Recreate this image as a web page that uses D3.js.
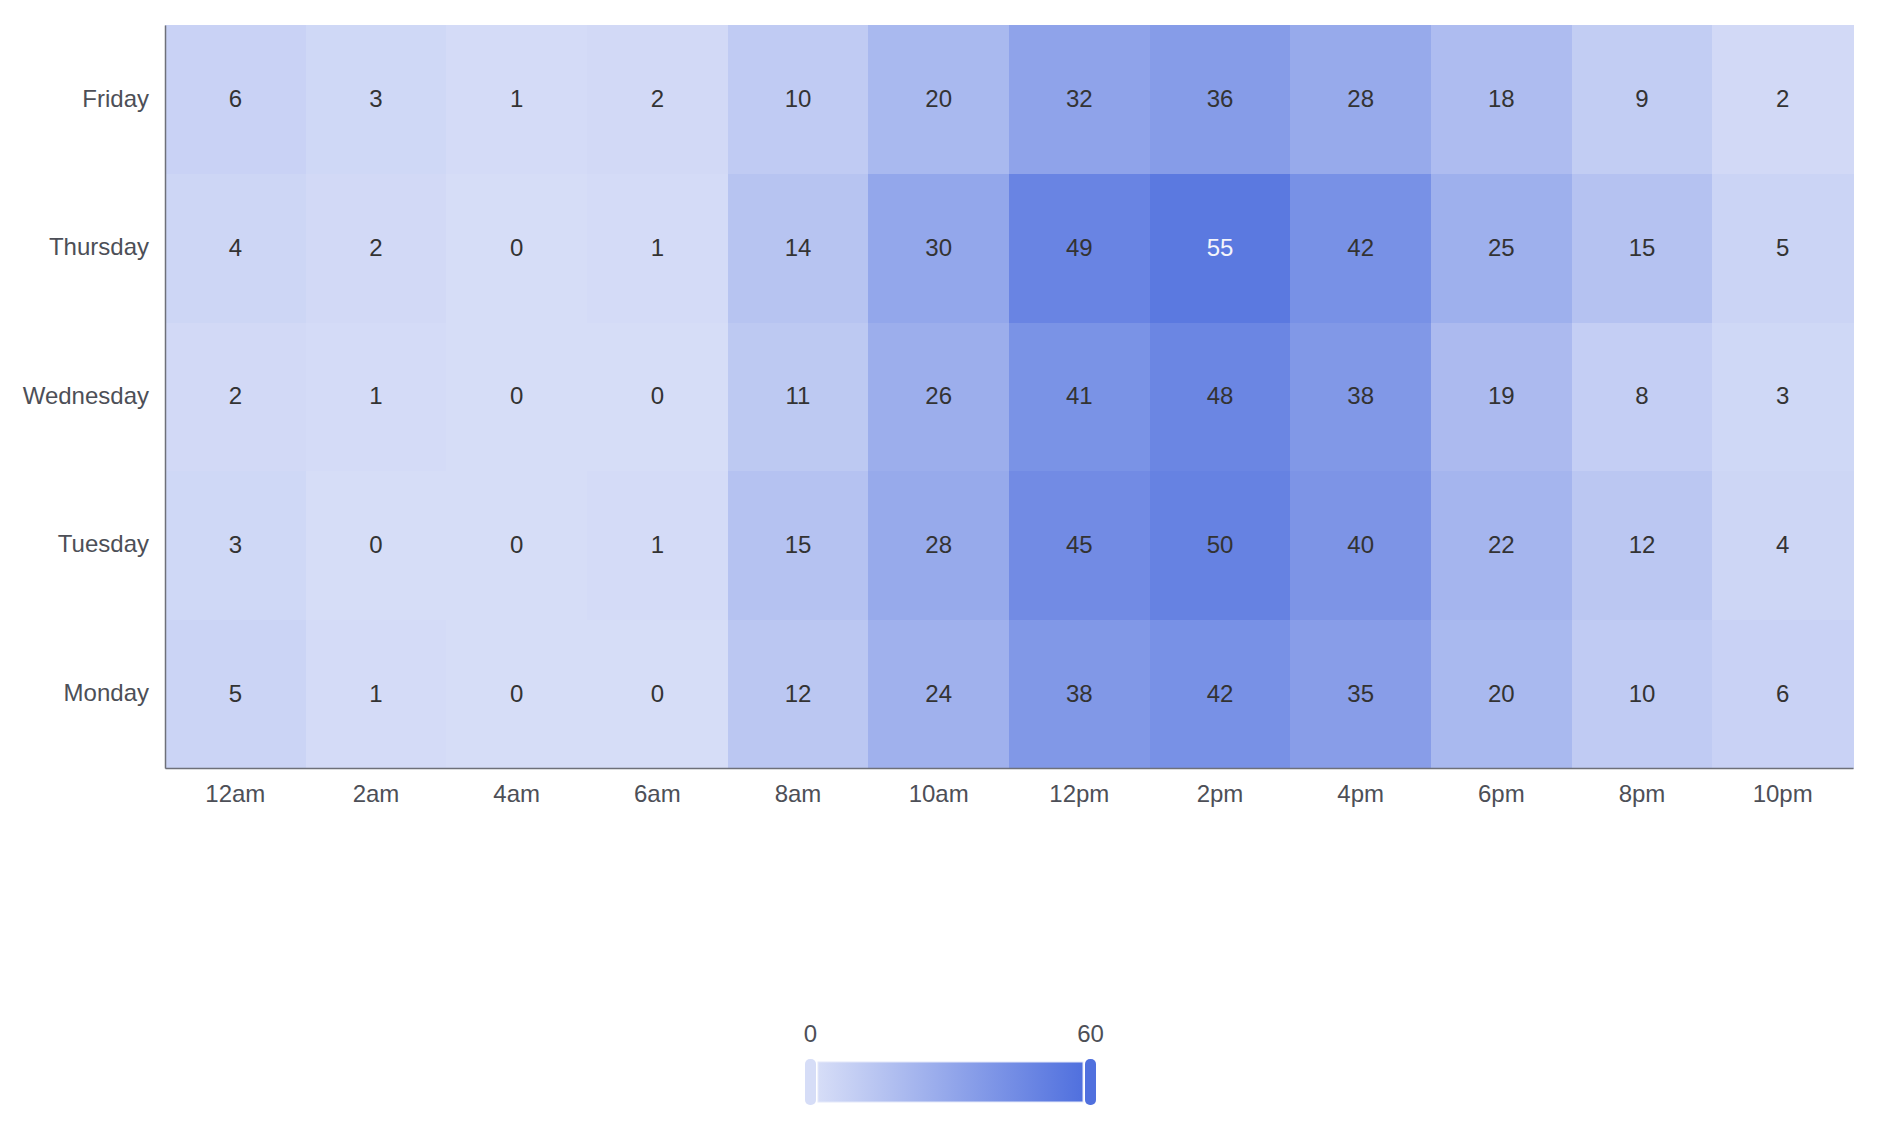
<!DOCTYPE html>
<html>
<head>
<meta charset="utf-8">
<script src="https://cdn.jsdelivr.net/npm/d3@7"></script>
<style>
  html, body { margin: 0; padding: 0; background: #fff; }
  svg { display: block; font-family: "Liberation Sans", Arial, Helvetica, sans-serif; }
</style>
</head>
<body>
<div id="chart"></div>
<script>
// hours along x, weekdays along y (bottom to top)
const hours = ['12am', '2am', '4am', '6am', '8am', '10am', '12pm', '2pm', '4pm', '6pm', '8pm', '10pm'];
const days = ['Monday', 'Tuesday', 'Wednesday', 'Thursday', 'Friday'];

const monday = [5, 1, 0, 0, 12, 24, 38, 42, 35, 20, 10, 6];
const tuesday = [3, 0, 0, 1, 15, 28, 45, 50, 40, 22, 12, 4];
const wednesday = [2, 1, 0, 0, 11, 26, 41, 48, 38, 19, 8, 3];
const thursday = [4, 2, 0, 1, 14, 30, 49, 55, 42, 25, 15, 5];
const friday = [6, 3, 1, 2, 10, 20, 32, 36, 28, 18, 9, 2];

const colorMin = 0;
const colorMax = 60;

const rows = [monday, tuesday, wednesday, thursday, friday];
const cells = [];
rows.forEach((vals, i) => {
  vals.forEach((v, j) => cells.push({ day: days[i], hour: hours[j], value: v }));
});

const width = 1878;
const height = 1131;
const margin = { top: 25, right: 25, bottom: 363, left: 165 };
const chartWidth = width - margin.left - margin.right;
const chartHeight = height - margin.top - margin.bottom;

const svg = d3.select('#chart').append('svg').attr('width', width).attr('height', height);

const x = d3.scaleBand().domain(hours).range([0, chartWidth]).padding(0);
const y = d3.scaleBand().domain(days).range([chartHeight, 0]).padding(0);
const color = d3.scaleLinear().domain([colorMin, colorMax]).range(['#d6ddf7', '#5070de']);

const chart = svg.append('g').attr('transform', `translate(${margin.left}, ${margin.top})`);

// small overlap hides the anti-aliased seams between cells
chart
  .selectAll('.cell')
  .data(cells)
  .enter()
  .append('rect')
  .attr('class', 'cell')
  .attr('x', (d) => x(d.hour))
  .attr('y', (d) => y(d.day))
  .attr('width', x.bandwidth() + 0.6)
  .attr('height', y.bandwidth() + 0.6)
  .attr('shape-rendering', 'crispEdges')
  .attr('fill', (d) => color(d.value));

// pick white text on dark cells
function isDark(c) {
  const rgb = d3.rgb(c);
  return rgb.r * 0.299 + rgb.g * 0.587 + rgb.b * 0.114 < 128;
}

chart
  .selectAll('.cell-label')
  .data(cells)
  .enter()
  .append('text')
  .attr('class', 'cell-label')
  .text((d) => d.value)
  .attr('x', (d) => x(d.hour) + x.bandwidth() / 2)
  .attr('y', (d) => y(d.day) + y.bandwidth() / 2)
  .attr('dy', '0.33em')
  .attr('text-anchor', 'middle')
  .attr('font-size', 24)
  .attr('fill', (d) => (isDark(color(d.value)) ? '#f4f5fb' : '#333333'));

const xAxis = chart
  .append('g')
  .attr('transform', `translate(0, ${chartHeight})`)
  .call(d3.axisBottom(x).tickSize(0).tickPadding(17));

const yAxis = chart.append('g').call(d3.axisLeft(y).tickSize(0).tickPadding(16));

[xAxis, yAxis].forEach((ax) => {
  ax.select('.domain').attr('stroke', '#6e7079').attr('stroke-width', 1.5);
  ax.selectAll('text')
    .attr('font-size', 24)
    .attr('fill', '#4d4f57')
    .style('font-family', '"Liberation Sans", Arial, Helvetica, sans-serif');
});
xAxis.selectAll('text').attr('dy', '0.71em');
yAxis.selectAll('text').attr('dy', '0.3em');

// continuous legend
const legendX = d3.scaleLinear().domain([colorMin, colorMax]).range([818, 1083]);
const legendTop = 1062;
const legendH = 40;

const grad = svg
  .append('defs')
  .append('linearGradient')
  .attr('id', 'legend-grad')
  .attr('x1', '0%')
  .attr('x2', '100%');
grad.append('stop').attr('offset', '0%').attr('stop-color', color(colorMin));
grad.append('stop').attr('offset', '100%').attr('stop-color', color(colorMax));

const legend = svg.append('g');

legend
  .append('rect')
  .attr('x', legendX(colorMin))
  .attr('y', legendTop)
  .attr('width', legendX(colorMax) - legendX(colorMin))
  .attr('height', legendH)
  .attr('fill', 'url(#legend-grad)')
  .attr('stroke', '#e3e8fa')
  .attr('stroke-width', 1);

legend
  .selectAll('.handle')
  .data([colorMin, colorMax])
  .enter()
  .append('rect')
  .attr('class', 'handle')
  .attr('x', (d, i) => (i === 0 ? legendX(d) - 13 : legendX(d) + 2))
  .attr('y', legendTop - 3)
  .attr('width', 11)
  .attr('height', legendH + 6)
  .attr('rx', 5)
  .attr('fill', (d) => color(d));

legend
  .selectAll('.legend-label')
  .data([colorMin, colorMax])
  .enter()
  .append('text')
  .attr('class', 'legend-label')
  .text((d) => d)
  .attr('x', (d, i) => (i === 0 ? legendX(d) - 7.5 : legendX(d) + 7.5))
  .attr('y', 1042)
  .attr('text-anchor', 'middle')
  .attr('font-size', 24)
  .attr('fill', '#4d4f57');
</script>
</body>
</html>
